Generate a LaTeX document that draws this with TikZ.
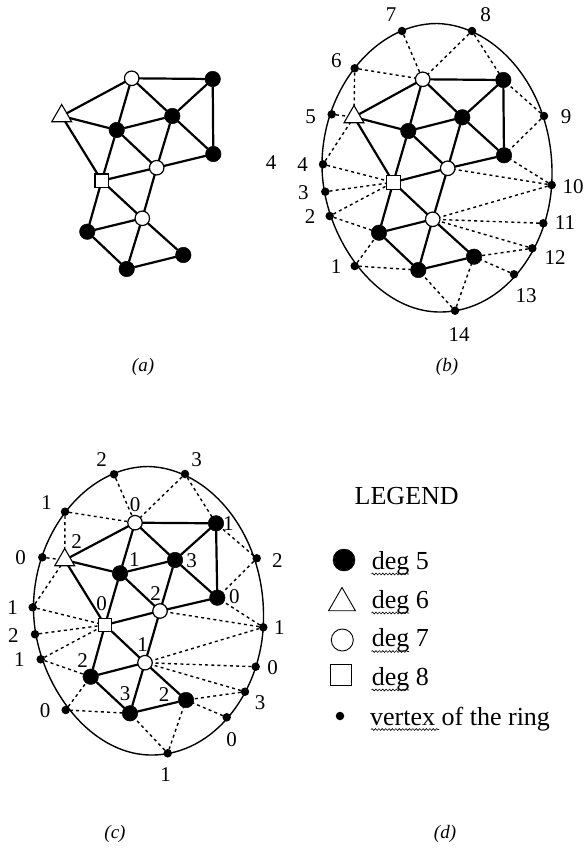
\documentclass[tikz,border=0pt]{standalone}
\usepackage{fontspec}
\setmainfont{Liberation Serif}
\usetikzlibrary{shapes.geometric,decorations.pathmorphing}
\tikzset{
  blk/.style={circle,fill=black,draw=black,line width=0.5pt,minimum size=15.5pt,inner sep=0pt,outer sep=0pt},
  wcirc/.style={circle,fill=white,draw=black,line width=1.2pt,minimum size=14.5pt,inner sep=0pt,outer sep=0pt},
  wsq/.style={rectangle,fill=white,draw=black,line width=1.1pt,minimum size=13.5pt,inner sep=0pt,outer sep=0pt},
  wtri/.style={regular polygon,regular polygon sides=3,fill=white,draw=black,line width=1.1pt,minimum size=23pt,inner sep=0pt,outer sep=0pt},
  ringdot/.style={circle,fill=black,minimum size=8.5pt,inner sep=0pt,outer sep=0pt},
  solidedge/.style={line width=2.2pt},
  ringedge/.style={line width=1.4pt,dash pattern=on 3pt off 3.2pt},
  ringline/.style={line width=1.4pt},
  lab/.style={inner sep=0pt,font=\fontsize{21}{21}\selectfont},
  legtext/.style={inner sep=0pt,anchor=base west,font=\fontsize{26}{26}\selectfont},
  captext/.style={inner sep=0pt,font=\fontsize{19}{19}\selectfont\itshape},
  wavyline/.style={line width=0.6pt,decorate,decoration={snake,amplitude=0.9pt,segment length=3.4pt}}
}
\begin{document}
\begin{tikzpicture}[x=1pt,y=-1pt]
\useasboundingbox (0,0) rectangle (584,854);
% ring outlines
\draw[ringline] (437,23.5) .. controls (497,25) and (553,90) .. (552,175)
  .. controls (552,245) and (505,312) .. (440,312)
  .. controls (375,312) and (322,235) .. (322,165)
  .. controls (322,90) and (375,23.5) .. (437,23.5) -- cycle;
\draw[ringline] (148.5,466.5) .. controls (208.5,468) and (264.5,533) .. (263.5,618)
  .. controls (263.5,688) and (216.5,755) .. (151.5,755)
  .. controls (86.5,755) and (33.5,678) .. (33.5,608)
  .. controls (33.5,533) and (86.5,466.5) .. (148.5,466.5) -- cycle;
% panel (a)
\node[blk]  (a-tr)  at (212.7,79) {};
\node[wcirc](a-top) at (131.7,78.3) {};
\node[wtri] (a-tri) at (61.7,116) {};
\node[blk]  (a-cl)  at (116.7,130) {};
\node[blk]  (a-cr)  at (172.3,116) {};
\node[blk]  (a-rt)  at (213.3,154) {};
\node[wcirc](a-mid) at (156.7,167.7) {};
\node[wsq]  (a-sq)  at (101.7,180.7) {};
\node[wcirc](a-low) at (142.3,218.3) {};
\node[blk]  (a-lb)  at (87.3,231.7) {};
\node[blk]  (a-bt)  at (126.7,269) {};
\node[blk]  (a-rb)  at (183.3,255) {};
% panel (b)
\node[blk]  (b-tr)  at (503.3,80) {};
\node[wcirc](b-top) at (422.7,79.3) {};
\node[wtri] (b-tri) at (354,117) {};
\node[blk]  (b-cl)  at (408.3,131) {};
\node[blk]  (b-cr)  at (462.3,117.3) {};
\node[blk]  (b-rt)  at (504,155.3) {};
\node[wcirc](b-mid) at (447.7,168.3) {};
\node[wsq]  (b-sq)  at (393.3,182.3) {};
\node[wcirc](b-low) at (432.7,219.3) {};
\node[blk]  (b-lb)  at (379,232.7) {};
\node[blk]  (b-bt)  at (418.3,270) {};
\node[blk]  (b-rb)  at (474,256.7) {};
% panel (c)
\node[blk]  (c-tr)  at (216,523.3) {};
\node[wcirc](c-top) at (135,522.7) {};
\node[wtri] (c-tri) at (64.7,560) {};
\node[blk]  (c-cl)  at (120,573.3) {};
\node[blk]  (c-cr)  at (175,560) {};
\node[blk]  (c-rt)  at (217.3,597.7) {};
\node[wcirc](c-mid) at (160,611) {};
\node[wsq]  (c-sq)  at (105,625) {};
\node[wcirc](c-low) at (145,662.7) {};
\node[blk]  (c-lb)  at (90.7,676.7) {};
\node[blk]  (c-bt)  at (130,713.3) {};
\node[blk]  (c-rb)  at (186,700) {};
% ring vertices
\foreach \n/\x/\y in {1/354.7/266,2/329.7/216,3/325.3/191.7,4/323/164.3,5/331.7/114.3,6/354.7/68.3,7/402/31,8/472/31,9/544/116,10/551.7/185,11/543.3/223.3,12/532.3/248.3,13/514/274.3,14/455/310.7}
  \node[ringdot] (b-r\n) at (\x,\y) {};
\foreach \n/\x/\y in {1/65.7/710,2/40.7/659.3,3/35/634.3,4/32.7/607.3,5/42.3/557.3,6/65/511.7,7/114/474.3,8/185/474,9/256.7/558.3,10/263.3/627.3,11/255.7/666.7,12/245/691.7,13/226.7/717.3,14/167.7/753.3}
  \node[ringdot] (c-r\n) at (\x,\y) {};
% solid edges
\foreach \p in {a,b,c}
  \foreach \u/\v in {top/tr,tr/rt,top/tri,top/cl,top/cr,tr/cr,tri/cl,tri/sq,cl/cr,cl/sq,cl/mid,cr/mid,cr/rt,mid/rt,mid/sq,mid/low,sq/low,sq/lb,low/lb,low/bt,low/rb,lb/bt,bt/rb}
    \draw[solidedge] (\p-\u) -- (\p-\v);
% dashed edges
\foreach \p in {b,c}
  \foreach \u/\v in {r1/lb,r1/bt,r2/sq,r2/lb,r3/sq,r4/sq,r4/tri,r5/tri,r6/tri,r6/top,r7/top,r8/top,r8/tr,r9/tr,r9/rt,r10/rt,r10/mid,r10/low,r11/low,r12/low,r12/rb,r13/rb,r14/rb,r14/bt}
    \draw[ringedge] (\p-\u) -- (\p-\v);
% labels of (b)
\foreach \t/\x/\y [count=\i] in {7/391/15,8/485.7/15,6/336.3/60.7,5/310.7/116.7,4/302.7/165,3/303.3/192.7,2/310/216.7,1/336/266.7,9/566/116.7,10/573/187,11/565/223,12/555/258,13/526/296,14/459/335,4/271/163}
  \node[lab] (bl\i) at (\x,\y) {\t};
% labels of (c)
\foreach \t/\x/\y [count=\i] in {2/101.7/460,3/196.7/460,1/46.7/503,0/20.7/558,1/12.7/608,2/13.3/636,1/19.3/660,0/45/710.7,1/165.7/775,0/231.7/740,3/260/703,0/272.7/668,1/279.3/628,2/277.3/560.7,0/135/505,1/228.3/524,2/76.7/541.7,1/134.3/559.3,3/191.7/560.7,2/155.7/593.3,0/234.3/596.7,0/101.7/604,1/142.7/645,2/82.7/660.7,3/125/694,2/164/695}
  \node[lab] (cl\i) at (\x,\y) {\t};
% captions
\node[captext] (capa) at (143,367) {(a)};
\node[captext] (capb) at (447,367) {(b)};
\node[captext] (capc) at (115,834) {(c)};
\node[captext] (capd) at (445,834) {(d)};
% legend
\node[inner sep=0pt,font=\fontsize{26}{26}\selectfont] (legtitle) at (406.7,495.7) {LEGEND};
\node[blk,minimum size=22pt] (m5) at (344,560) {};
\node[regular polygon,regular polygon sides=3,draw=black,line width=0.9pt,minimum size=31pt,inner sep=0pt,outer sep=0pt] (m6) at (342,603) {};
\node[circle,draw=black,line width=0.9pt,minimum size=22pt,inner sep=0pt] (m7) at (342.3,640) {};
\node[rectangle,draw=black,line width=0.9pt,minimum size=21.5pt,inner sep=0pt] (m8) at (341,675) {};
\node[ringdot] (m9) at (340,716) {};
\node[legtext] (t5) at (371.7,569) {deg 5};
\node[legtext] (t6) at (371.7,608) {deg 6};
\node[legtext] (t7) at (371.7,646.7) {deg 7};
\node[legtext] (t8) at (371.7,685) {deg 8};
\node[legtext] (t9) at (370,725) {vertex of the ring};
\foreach \y in {574,613,651.5,690}
  \draw[wavyline] (371.5,\y) -- (409,\y);
\draw[wavyline] (371,729.5) -- (439,729.5);
\end{tikzpicture}
\end{document}
